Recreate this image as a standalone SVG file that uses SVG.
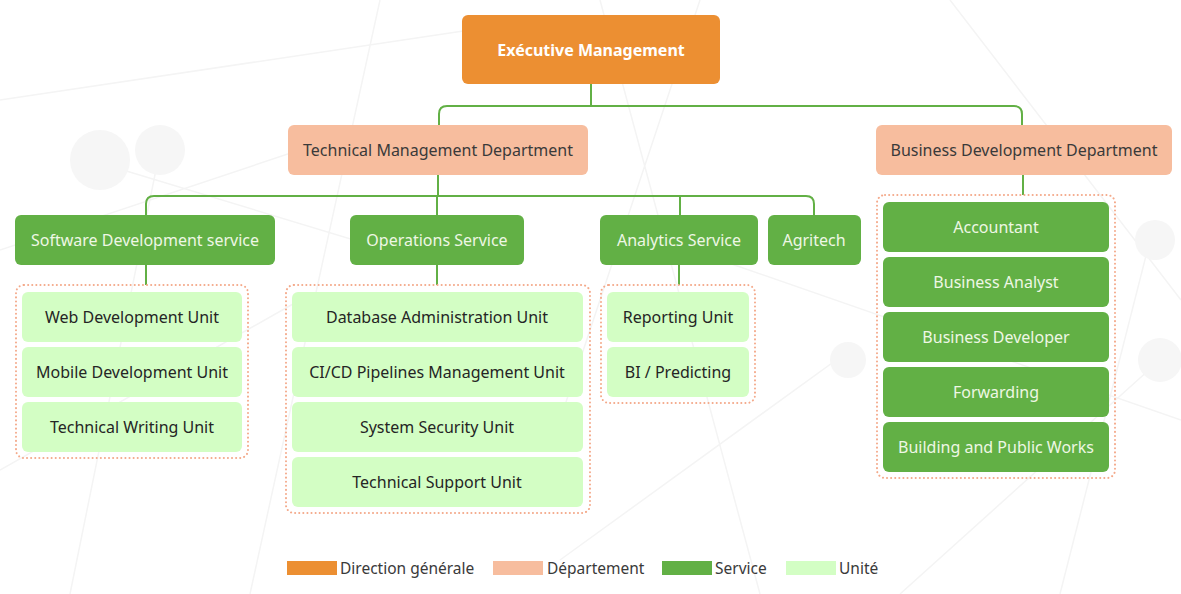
<svg xmlns="http://www.w3.org/2000/svg" width="1181" height="594" viewBox="0 0 1181 594">
<style>
text{font-family:"Noto Sans","Liberation Sans",sans-serif;font-size:16px;text-anchor:middle;dominant-baseline:central}
.exec{fill:#EC8F32}
.dept{fill:#F7BD9E}
.svc{fill:#62B045}
.unit{fill:#D3FEC4}
.t-exec{fill:#ffffff;font-weight:bold}
.t-dept{fill:#3a3a3a}
.t-svc{fill:#EEF7E4}
.t-unit{fill:#252525}
.grp{fill:none;stroke:#F4A98A;stroke-width:2;stroke-dasharray:0.1 4;stroke-linecap:round}
.conn{fill:none;stroke:#62B045;stroke-width:2}
.bg{stroke:#F4F4F4;stroke-width:1.5;fill:none}
.leg{text-anchor:start;fill:#3a3a3a;font-size:15.5px}
</style>
<rect width="1181" height="594" fill="#ffffff"/>
<g id="background">
<path class="bg" d="M0 100 L470 30 M0 250 L330 140 M90 160 L420 260 M160 150 L70 594 M600 0 L760 594 M700 0 L560 420 M720 260 L1181 420 M1150 240 L1060 594 M1160 360 L900 594 M380 0 L250 594 M0 470 L300 300 M560 560 L850 350 M950 0 L1181 300"/>
<circle cx="100" cy="160" r="30" fill="#F6F6F6"/>
<circle cx="160" cy="150" r="25" fill="#F6F6F6"/>
<circle cx="1155" cy="240" r="20" fill="#F6F6F6"/>
<circle cx="1160" cy="360" r="22" fill="#F6F6F6"/>
<circle cx="848" cy="360" r="18" fill="#F6F6F6"/>
</g>
<g id="connectors">
<path class="conn" d="M591 84 V106 M439 125 V114 Q439 106 447 106 H1014 Q1022 106 1022 114 V125"/>
<path class="conn" d="M438 175 V196 M146 215 V204 Q146 196 154 196 H806 Q814 196 814 204 V215 M437 196 V215 M680 196 V215"/>
<path class="conn" d="M146 265 V285 M437 265 V285 M679 265 V285 M1023 175 V195"/>
</g>
<g id="exec">
<rect class="exec" x="462" y="15" width="258" height="69" rx="6"/>
<text class="t-exec" x="591" y="50">Exécutive Management</text>
</g>
<g id="dept-tech">
<rect class="dept" x="288" y="125" width="300" height="50" rx="6"/>
<text class="t-dept" x="438" y="150">Technical Management Department</text>
</g>
<g id="dept-business">
<rect class="dept" x="876" y="125" width="296" height="50" rx="6"/>
<text class="t-dept" x="1024" y="150">Business Development Department</text>
</g>
<g id="svc-software">
<rect class="svc" x="15" y="215" width="260" height="50" rx="6"/>
<text class="t-svc" x="145" y="240">Software Development service</text>
</g>
<g id="svc-operations">
<rect class="svc" x="350" y="215" width="174" height="50" rx="6"/>
<text class="t-svc" x="437" y="240">Operations Service</text>
</g>
<g id="svc-analytics">
<rect class="svc" x="600" y="215" width="158" height="50" rx="6"/>
<text class="t-svc" x="679" y="240">Analytics Service</text>
</g>
<g id="svc-agritech">
<rect class="svc" x="768" y="215" width="93" height="50" rx="6"/>
<text class="t-svc" x="814" y="240">Agritech</text>
</g>
<g id="grp-software">
<rect class="grp" x="16" y="285" width="232" height="173" rx="8"/>
<g id="u-web"><rect class="unit" x="22" y="292" width="220" height="50" rx="6"/><text class="t-unit" x="132" y="317">Web Development Unit</text></g>
<g id="u-mobile"><rect class="unit" x="22" y="347" width="220" height="50" rx="6"/><text class="t-unit" x="132" y="372">Mobile Development Unit</text></g>
<g id="u-writing"><rect class="unit" x="22" y="402" width="220" height="50" rx="6"/><text class="t-unit" x="132" y="427">Technical Writing Unit</text></g>
</g>
<g id="grp-operations">
<rect class="grp" x="286" y="285" width="304" height="228" rx="8"/>
<g id="u-db"><rect class="unit" x="292" y="292" width="291" height="50" rx="6"/><text class="t-unit" x="437" y="317">Database Administration Unit</text></g>
<g id="u-cicd"><rect class="unit" x="292" y="347" width="291" height="50" rx="6"/><text class="t-unit" x="437" y="372">CI/CD Pipelines Management Unit</text></g>
<g id="u-sec"><rect class="unit" x="292" y="402" width="291" height="50" rx="6"/><text class="t-unit" x="437" y="427">System Security Unit</text></g>
<g id="u-support"><rect class="unit" x="292" y="457" width="291" height="50" rx="6"/><text class="t-unit" x="437" y="482">Technical Support Unit</text></g>
</g>
<g id="grp-analytics">
<rect class="grp" x="601" y="285" width="154" height="118" rx="8"/>
<g id="u-report"><rect class="unit" x="607" y="292" width="142" height="50" rx="6"/><text class="t-unit" x="678" y="317">Reporting Unit</text></g>
<g id="u-bi"><rect class="unit" x="607" y="347" width="142" height="50" rx="6"/><text class="t-unit" x="678" y="372">BI / Predicting</text></g>
</g>
<g id="grp-business">
<rect class="grp" x="877" y="195" width="238" height="283" rx="8"/>
<g id="b-acc"><rect class="svc" x="883" y="202" width="226" height="50" rx="6"/><text class="t-svc" x="996" y="227">Accountant</text></g>
<g id="b-ba"><rect class="svc" x="883" y="257" width="226" height="50" rx="6"/><text class="t-svc" x="996" y="282">Business Analyst</text></g>
<g id="b-bd"><rect class="svc" x="883" y="312" width="226" height="50" rx="6"/><text class="t-svc" x="996" y="337">Business Developer</text></g>
<g id="b-fw"><rect class="svc" x="883" y="367" width="226" height="50" rx="6"/><text class="t-svc" x="996" y="392">Forwarding</text></g>
<g id="b-btp"><rect class="svc" x="883" y="422" width="226" height="50" rx="6"/><text class="t-svc" x="996" y="447">Building and Public Works</text></g>
</g>
<g id="legend">
<rect class="exec" x="287" y="561" width="50" height="14"/>
<text class="leg" x="340" y="568">Direction générale</text>
<rect class="dept" x="493" y="561" width="50" height="14"/>
<text class="leg" x="547" y="568">Département</text>
<rect class="svc" x="662" y="561" width="50" height="14"/>
<text class="leg" x="715" y="568">Service</text>
<rect class="unit" x="786" y="561" width="50" height="14"/>
<text class="leg" x="839" y="568">Unité</text>
</g>
</svg>
